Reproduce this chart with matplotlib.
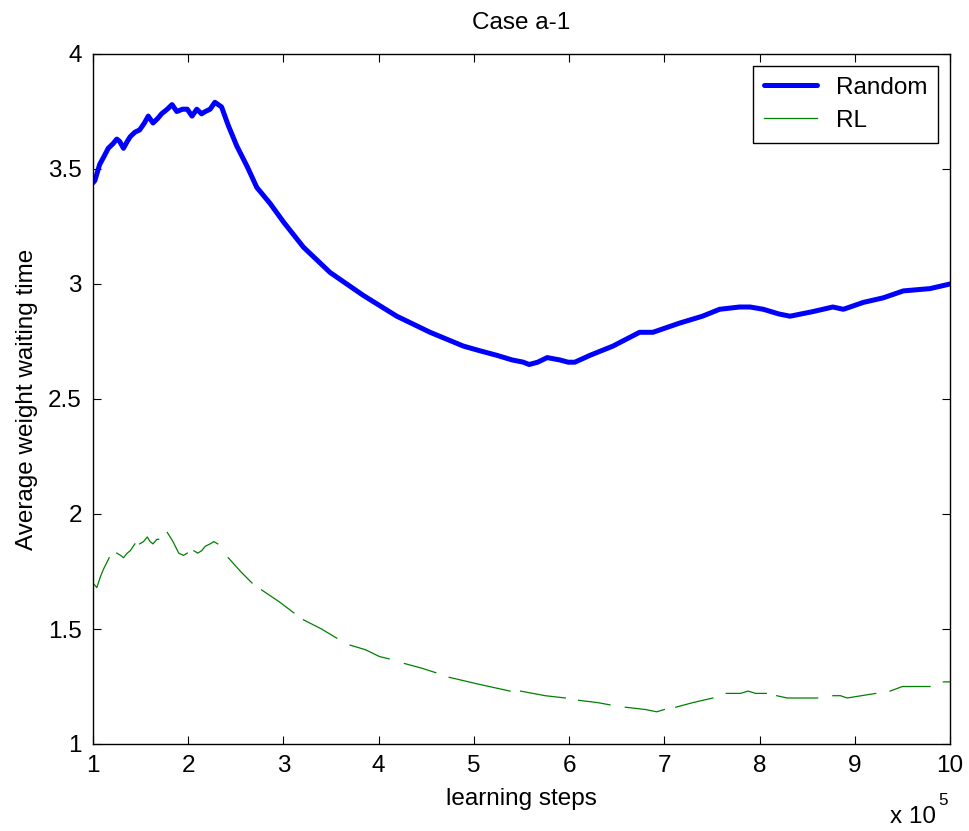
import numpy as np
import matplotlib
matplotlib.use('Agg')
import matplotlib.pyplot as plt

# values (x in units of 1e5 learning steps)
random_x = [1.00, 1.02, 1.07, 1.11, 1.16, 1.21, 1.25, 1.28, 1.32, 1.36, 1.39, 1.44, 1.49, 1.54,
            1.58, 1.63, 1.68, 1.72, 1.78, 1.83, 1.88, 1.94, 1.99, 2.04, 2.09, 2.14, 2.18, 2.23,
            2.28, 2.35, 2.42, 2.51, 2.62, 2.72, 2.86, 3.00, 3.21, 3.49, 3.84, 4.19, 4.54, 4.89,
            5.06, 5.24, 5.40, 5.52, 5.58, 5.67, 5.77, 5.90, 5.99, 6.06, 6.22, 6.46, 6.74, 6.88,
            7.16, 7.40, 7.58, 7.79, 7.90, 8.04, 8.20, 8.32, 8.56, 8.77, 8.88, 9.09, 9.30, 9.51,
            9.79, 10.00]
random_y = [3.44, 3.45, 3.52, 3.55, 3.59, 3.61, 3.63, 3.62, 3.59, 3.62, 3.64, 3.66, 3.67, 3.70,
            3.73, 3.70, 3.72, 3.74, 3.76, 3.78, 3.75, 3.76, 3.76, 3.73, 3.76, 3.74, 3.75, 3.76,
            3.79, 3.77, 3.69, 3.60, 3.51, 3.42, 3.35, 3.27, 3.16, 3.05, 2.95, 2.86, 2.79, 2.73,
            2.71, 2.69, 2.67, 2.66, 2.65, 2.66, 2.68, 2.67, 2.66, 2.66, 2.69, 2.73, 2.79, 2.79,
            2.83, 2.86, 2.89, 2.90, 2.90, 2.89, 2.87, 2.86, 2.88, 2.90, 2.89, 2.92, 2.94, 2.97,
            2.98, 3.00]

# RL curve is drawn in broken pieces in the reference; nan marks the gaps
nan = np.nan
rl_x = [1.00, 1.04, 1.08, 1.11, 1.17, nan,
        1.25, 1.29, 1.32, 1.36, 1.39, 1.44, nan,
        1.49, 1.53, 1.57, 1.60, 1.63, 1.67, 1.69, nan,
        1.78, 1.84, 1.90, 1.95, 1.99, nan,
        2.06, 2.10, 2.14, 2.18, 2.23, 2.27, 2.31, nan,
        2.42, 2.55, 2.67, nan,
        2.77, 2.95, 3.11, nan,
        3.21, 3.40, 3.56, nan,
        3.70, 3.86, 4.01, 4.11, nan,
        4.27, 4.45, 4.60, nan,
        4.74, 5.05, 5.38, nan,
        5.49, 5.75, 5.96, nan,
        6.10, 6.30, 6.43, nan,
        6.59, 6.80, 6.92, 7.00, nan,
        7.12, 7.30, 7.51, nan,
        7.65, 7.80, 7.88, 7.96, 8.07, nan,
        8.18, 8.29, 8.61, nan,
        8.77, 8.85, 8.92, 9.22, nan,
        9.37, 9.50, 9.79, nan,
        9.93, 10.00]
rl_y = [1.70, 1.68, 1.73, 1.76, 1.81, nan,
        1.83, 1.82, 1.81, 1.83, 1.84, 1.87, nan,
        1.87, 1.88, 1.90, 1.88, 1.87, 1.89, 1.89, nan,
        1.92, 1.88, 1.83, 1.82, 1.83, nan,
        1.84, 1.83, 1.84, 1.86, 1.87, 1.88, 1.87, nan,
        1.81, 1.75, 1.70, nan,
        1.67, 1.62, 1.57, nan,
        1.54, 1.50, 1.46, nan,
        1.43, 1.41, 1.38, 1.37, nan,
        1.35, 1.33, 1.31, nan,
        1.29, 1.26, 1.23, nan,
        1.23, 1.21, 1.20, nan,
        1.19, 1.18, 1.17, nan,
        1.16, 1.15, 1.14, 1.15, nan,
        1.16, 1.18, 1.20, nan,
        1.22, 1.22, 1.23, 1.22, 1.22, nan,
        1.21, 1.20, 1.20, nan,
        1.21, 1.21, 1.20, 1.22, nan,
        1.23, 1.25, 1.25, nan,
        1.27, 1.27]

x_ticks = [1, 2, 3, 4, 5, 6, 7, 8, 9, 10]
y_ticks = [1, 1.5, 2, 2.5, 3, 3.5, 4]
y_tick_labels = ['1', '1.5', '2', '2.5', '3', '3.5', '4']


def main():
	plt.rcParams['font.family'] = ['Liberation Sans', 'DejaVu Sans']
	fs = 17.5

	fig = plt.figure(figsize=(9.70, 8.31), dpi=100)
	ax = fig.add_axes([93 / 970, 1 - 744 / 831, (950 - 93) / 970, (744 - 54) / 831])

	ax.plot(random_x, random_y, color=(0, 0, 1), lw=3.6, label='Random',
	        solid_joinstyle='round', solid_capstyle='round')
	ax.plot(rl_x, rl_y, color=(0, 0.5, 0), lw=0.9, label='RL')

	ax.set_xlim(1, 10)
	ax.set_ylim(1, 4)
	ax.set_xticks(x_ticks)
	ax.set_xticklabels([str(t) for t in x_ticks], fontsize=fs)
	ax.set_yticks(y_ticks)
	ax.set_yticklabels(y_tick_labels, fontsize=fs)
	ax.tick_params(direction='in', length=6, width=0.8, top=True, right=True, pad=8)
	for sp in ax.spines.values():
		sp.set_linewidth(1.0)

	ax.set_title('Case a-1', fontsize=fs, pad=18)
	ax.set_xlabel('learning steps', fontsize=fs, labelpad=8)
	ax.set_ylabel('Average weight waiting time', fontsize=fs, labelpad=7)

	fig.text(936 / 970, 1 - 828 / 831, 'x 10', fontsize=fs, ha='right', va='bottom')
	fig.text(938 / 970, 1 - 808 / 831, '5', fontsize=fs * 0.7, ha='left', va='bottom')

	leg = ax.legend(loc='upper right', bbox_to_anchor=(938 / 970, 1 - 66 / 831),
	                bbox_transform=fig.transFigure, fontsize=fs, fancybox=False,
	                edgecolor='black', framealpha=1, borderaxespad=0,
	                handlelength=2.2, handletextpad=0.75, labelspacing=0.45,
	                borderpad=0.45)
	leg.get_frame().set_linewidth(1.0)

	fig.savefig('out.png', dpi=100)


if __name__ == '__main__':
	main()
